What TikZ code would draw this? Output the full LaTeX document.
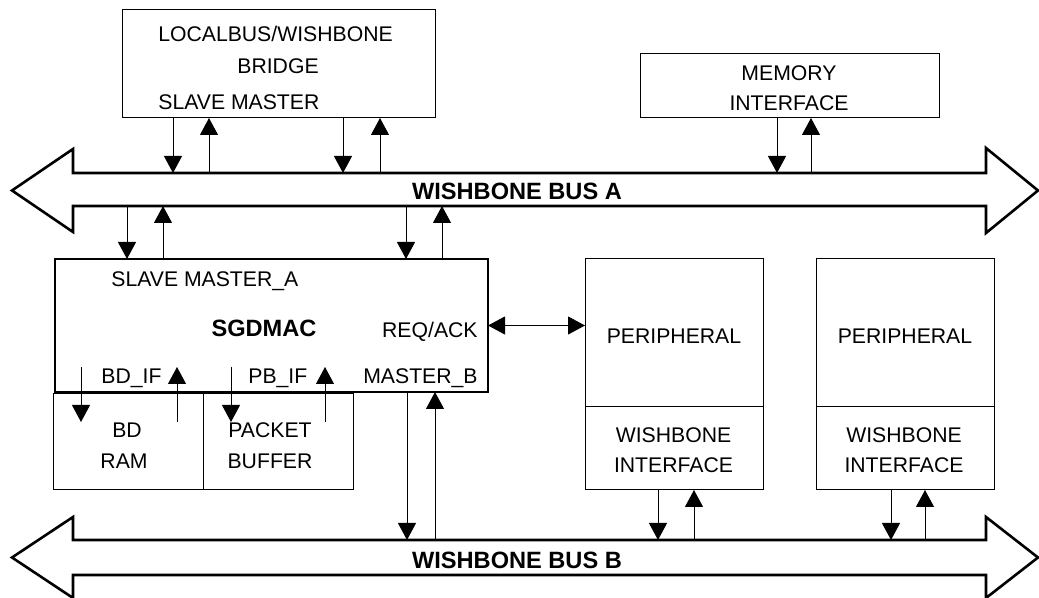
\documentclass[tikz,border=0pt]{standalone}
\usepackage{fontspec}
\setmainfont{Liberation Sans}
\usetikzlibrary{arrows.meta,positioning}

\tikzset{
  box/.style={draw, line width=0.5pt, inner sep=0pt, outer sep=0pt, anchor=north west},
  lbl/.style={inner sep=0pt, anchor=base, font=\fontsize{10.6}{12}\selectfont},
  lbll/.style={lbl, anchor=base west},
  busname/.style={lbl, font=\fontsize{11.8}{13}\selectfont\bfseries},
  bus/.style={line width=1.3pt, line join=miter},
  sig/.style={-{Triangle[length=8.5pt,width=9pt]}, line width=0.5pt},
  sigboth/.style={{Triangle[length=8.5pt,width=9pt]}-{Triangle[length=8.5pt,width=9pt]}, line width=0.5pt},
}

\begin{document}
\begin{tikzpicture}[x=0.5pt,y=-0.5pt]
\useasboundingbox (0,0) rectangle (1039,598);

% the two buses
\draw[bus] (73,173) -- (986,173) -- (986,148) -- (1038,190.5) -- (986,233) -- (986,206)
  -- (73,206) -- (73,232) -- (12,190.5) -- (73,149) -- cycle;
\draw[bus] (73,540) -- (986,540) -- (986,517) -- (1038,557.5) -- (986,598) -- (986,575)
  -- (73,575) -- (73,598) -- (12,557.5) -- (73,517) -- cycle;
\node[busname] (busA) at (517,200) {WISHBONE BUS A};
\node[busname] (busB) at (517,568) {WISHBONE BUS B};

% blocks
\node[box, minimum width=156.5pt, minimum height=54pt] (bridge) at (122,10) {};
\node[box, minimum width=149.5pt, minimum height=32pt] (mem) at (640,54) {};
\node[box, line width=1.2pt, minimum width=216.5pt, minimum height=66.5pt] (sgd) at (55,259) {};
\node[box, minimum width=75pt, minimum height=48pt] (bdram) at (53,394) {};
\node[box, minimum width=75pt, minimum height=48pt, right=0pt of bdram] (pbuf) {};
\node[box, minimum width=89pt, minimum height=74pt] (per1) at (585,259) {};
\node[box, minimum width=89pt, minimum height=41.5pt, below=0pt of per1] (wb1) {};
\node[box, minimum width=89pt, minimum height=74pt] (per2) at (816,259) {};
\node[box, minimum width=89pt, minimum height=41.5pt, below=0pt of per2] (wb2) {};

% texts
\node[lbl] (brT1) at (275.5,42) {LOCALBUS/WISHBONE};
\node[lbl] (brT2) at (278,74) {BRIDGE};
\node[lbll] (brP) at (158,110) {SLAVE MASTER};
\node[lbl] (memT1) at (789,81) {MEMORY};
\node[lbl] (memT2) at (789,111) {INTERFACE};
\node[lbll] (sgdP) at (111,287) {SLAVE MASTER\_A};
\node[busname] (sgdT) at (264,337) {SGDMAC};
\node[lbl, anchor=base east] (sgdR) at (478,338) {REQ/ACK};
\node[lbll] (bdif) at (101,384) {BD\_IF};
\node[lbll] (pbif) at (248,384) {PB\_IF};
\node[lbl, anchor=base east] (mb) at (478,384) {MASTER\_B};
\node[lbl] (bdT1) at (127,438) {BD};
\node[lbl] (bdT2) at (124,469) {RAM};
\node[lbl] (pbT1) at (270,438) {PACKET};
\node[lbl] (pbT2) at (270,469) {BUFFER};
\node[lbl] (p1T) at (674,344) {PERIPHERAL};
\node[lbl] (p2T) at (905,344) {PERIPHERAL};
\node[lbl] (w1T1) at (673.5,443) {WISHBONE};
\node[lbl] (w1T2) at (673.5,473) {INTERFACE};
\node[lbl] (w2T1) at (904,443) {WISHBONE};
\node[lbl] (w2T2) at (904,473) {INTERFACE};

% taps on the buses
\foreach \x [count=\i] in {173,209,343,380,777,811}
  \coordinate (a\i) at (\x,173);
\foreach \x [count=\i] in {127,163,406,442}
  \coordinate (s\i) at (\x,206);
\foreach \x [count=\i] in {407,435,658,694,891,925}
  \coordinate (b\i) at (\x,540);
% local ports between SGDMAC and its memories
\foreach \x [count=\i] in {81,177,231,325} {
  \coordinate (hi\i) at (\x,367);
  \coordinate (lo\i) at (\x,422);
}

% bus A
\draw[sig] (bridge.south -| a1) -- (a1);
\draw[sig] (a2) -- (bridge.south -| a2);
\draw[sig] (bridge.south -| a3) -- (a3);
\draw[sig] (a4) -- (bridge.south -| a4);
\draw[sig] (mem.south -| a5) -- (a5);
\draw[sig] (a6) -- (mem.south -| a6);
\draw[sig] (s1) -- (sgd.north -| s1);
\draw[sig] (sgd.north -| s2) -- (s2);
\draw[sig] (s3) -- (sgd.north -| s3);
\draw[sig] (sgd.north -| s4) -- (s4);

% local memories
\draw[sig] (hi1) -- (lo1);
\draw[sig] (lo2) -- (hi2);
\draw[sig] (hi3) -- (lo3);
\draw[sig] (lo4) -- (hi4);

% bus B
\draw[sig] (sgd.south -| b1) -- (b1);
\draw[sig] (b2) -- (sgd.south -| b2);
\draw[sig] (wb1.south -| b3) -- (b3);
\draw[sig] (b4) -- (wb1.south -| b4);
\draw[sig] (wb2.south -| b5) -- (b5);
\draw[sig] (b6) -- (wb2.south -| b6);

\draw[sigboth] (sgd.east) -- (sgd.east -| per1.west);

\end{tikzpicture}
\end{document}
